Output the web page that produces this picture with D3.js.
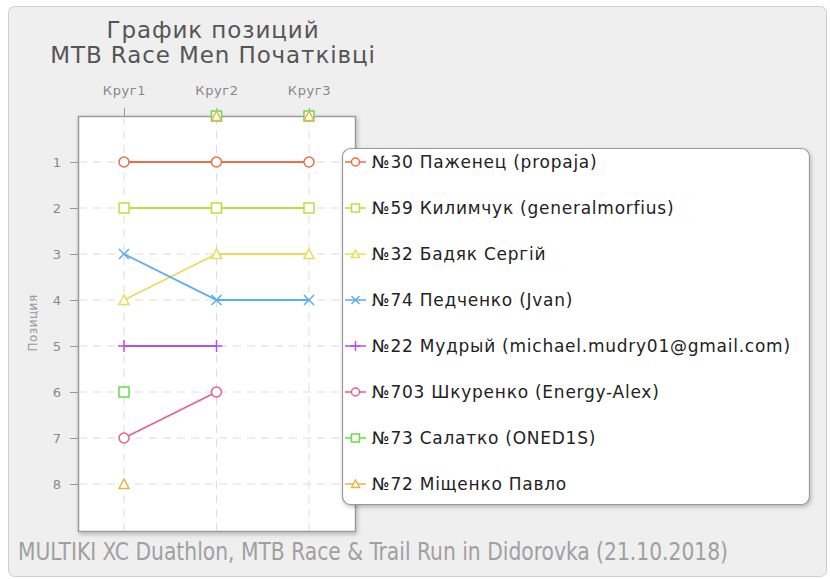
<!DOCTYPE html>
<html>
<head>
<meta charset="utf-8">
<style>
  body { margin: 0; background: #fff; }
  svg { display: block; }
</style>
</head>
<body>
<div id="chart"></div>
<script src="https://d3js.org/d3.v7.min.js"></script>
<script>
  // ---- data ----
  var laps = ["Круг1", "Круг2", "Круг3"];
  var riders = [
    "№30 Паженец (propaja)",
    "№59 Килимчук (generalmorfius)",
    "№32 Бадяк Сергій",
    "№74 Педченко (Jvan)",
    "№22 Мудрый (michael.mudry01@gmail.com)",
    "№703 Шкуренко (Energy-Alex)",
    "№73 Салатко (ONED1S)",
    "№72 Міщенко Павло"
  ];
  // position per lap, null = no data, 0 = dropped (drawn on the top edge)
  var positions = [
    [1, 1, 1],
    [2, 2, 2],
    [4, 3, 3],
    [3, 4, 4],
    [5, 5, null],
    [7, 6, null],
    [6, 0, 0],
    [8, 0, 0]
  ];
  var colors = ["#ef6d45", "#b9df3f", "#e9dc5a", "#5aaeea", "#b64fe9", "#e8608e", "#66dd4a", "#e9b347"];
  var symbols = ["circle", "square", "triangle", "cross", "plus", "circle", "square", "triangle"];
  var yTicks = [1, 2, 3, 4, 5, 6, 7, 8];

  var W = 830, H = 579;
  var plot = { left: 78, right: 355, top: 116, bottom: 531 };

  var svg = d3.select("#chart").append("svg")
    .attr("width", W).attr("height", H);

  var defs = svg.append("defs");
  var sh = defs.append("filter").attr("id", "shadow")
    .attr("x", "-5%").attr("y", "-5%").attr("width", "110%").attr("height", "110%");
  sh.append("feDropShadow").attr("dx", 1).attr("dy", 2).attr("stdDeviation", 2)
    .attr("flood-color", "#000").attr("flood-opacity", 0.25);

  // outer panel
  svg.append("rect")
    .attr("x", 8.5).attr("y", 6.5).attr("width", 818).attr("height", 570)
    .attr("rx", 6)
    .attr("fill", "#efefef").attr("stroke", "#cfcfcf");

  // title
  var titleFont = "'DejaVu Sans', sans-serif";
  svg.append("text")
    .attr("x", 213).attr("y", 38)
    .attr("text-anchor", "middle")
    .attr("font-family", titleFont)
    .attr("font-size", 23).attr("fill", "#555")
    .attr("letter-spacing", 0.9)
    .text("График позиций");
  svg.append("text")
    .attr("x", 213).attr("y", 63)
    .attr("text-anchor", "middle")
    .attr("font-family", titleFont)
    .attr("font-size", 23).attr("fill", "#555")
    .attr("letter-spacing", 0.9)
    .text("MTB Race Men Початківці");

  var x = d3.scalePoint()
    .domain(laps)
    .range([124, 309]);

  var y = d3.scaleLinear()
    .domain([0, 9])
    .range([plot.top, plot.bottom - 1]);

  // plot background
  svg.append("rect")
    .attr("x", plot.left + 0.5).attr("y", plot.top + 0.5)
    .attr("width", plot.right - plot.left).attr("height", plot.bottom - plot.top)
    .attr("fill", "#fff").attr("stroke", "#9a9a9a").attr("stroke-width", 1.5)
    .attr("filter", "url(#shadow)");

  // grid
  var grid = svg.append("g");
  grid.selectAll(".vg").data(laps).enter().append("line")
    .attr("x1", function(d) { return x(d); }).attr("x2", function(d) { return x(d); })
    .attr("y1", plot.top + 1).attr("y2", plot.bottom)
    .attr("stroke", "#ddd").attr("stroke-dasharray", "8,6");
  grid.selectAll(".hg").data(yTicks).enter().append("line")
    .attr("x1", plot.left + 1).attr("x2", plot.right)
    .attr("y1", function(d) { return y(d); }).attr("y2", function(d) { return y(d); })
    .attr("stroke", "#ddd").attr("stroke-dasharray", "8,6");

  // axes
  var xAxis = svg.append("g")
    .attr("transform", "translate(0," + plot.top + ")")
    .call(d3.axisTop(x).tickSize(8).tickPadding(13));
  xAxis.select(".domain").remove();
  xAxis.selectAll("line").attr("stroke", "#999");
  xAxis.selectAll("text")
    .attr("font-family", "'DejaVu Sans', sans-serif")
    .attr("font-size", 13).attr("fill", "#888")
    .attr("letter-spacing", 0.6);

  var yAxis = svg.append("g")
    .attr("transform", "translate(" + plot.left + ",0)")
    .call(d3.axisLeft(y).tickValues(yTicks).tickSize(8).tickPadding(9).tickFormat(d3.format("d")));
  yAxis.select(".domain").remove();
  yAxis.selectAll("line").attr("stroke", "#999");
  yAxis.selectAll("text")
    .attr("font-family", "'DejaVu Sans', sans-serif")
    .attr("font-size", 13).attr("fill", "#888");

  svg.append("text")
    .attr("transform", "translate(37," + y(4.5) + ") rotate(-90)")
    .attr("text-anchor", "middle")
    .attr("font-family", "'DejaVu Sans', sans-serif")
    .attr("font-size", 12).attr("fill", "#999")
    .attr("letter-spacing", 0.5)
    .text("Позиция");

  // marker drawer
  function marker(g, type, cx, cy, color, r) {
    if (type === "circle") {
      g.append("circle").attr("cx", cx).attr("cy", cy).attr("r", r)
        .attr("fill", "#fff").attr("stroke", color).attr("stroke-width", 1.5);
    } else if (type === "square") {
      g.append("rect").attr("x", cx - r).attr("y", cy - r)
        .attr("width", 2 * r).attr("height", 2 * r)
        .attr("fill", "#fff").attr("stroke", color).attr("stroke-width", 1.5);
    } else if (type === "triangle") {
      g.append("path")
        .attr("d", "M" + cx + "," + (cy - r) + "L" + (cx + r) + "," + (cy + r - 0.5) + "L" + (cx - r) + "," + (cy + r - 0.5) + "Z")
        .attr("fill", "#fff").attr("stroke", color).attr("stroke-width", 1.5);
    } else if (type === "cross") {
      g.append("path")
        .attr("d", "M" + (cx - r) + "," + (cy - r) + "L" + (cx + r) + "," + (cy + r) +
                   "M" + (cx - r) + "," + (cy + r) + "L" + (cx + r) + "," + (cy - r))
        .attr("stroke", color).attr("stroke-width", 1.5);
    } else if (type === "plus") {
      g.append("path")
        .attr("d", "M" + (cx - r - 1) + "," + cy + "L" + (cx + r + 1) + "," + cy +
                   "M" + cx + "," + (cy - r - 1) + "L" + cx + "," + (cy + r + 1))
        .attr("stroke", color).attr("stroke-width", 1.5);
    }
  }

  // series
  var line = d3.line()
    .defined(function(d) { return d.v !== null && d.v > 0; })
    .x(function(d) { return x(d.lap); })
    .y(function(d) { return y(d.v); });

  var series = svg.append("g");
  positions.forEach(function(vals, i) {
    var pts = vals.map(function(v, j) { return { lap: laps[j], v: v }; });
    var g = series.append("g");
    g.append("path").datum(pts)
      .attr("d", line)
      .attr("fill", "none").attr("stroke", colors[i]).attr("stroke-width", 1.8);
    pts.forEach(function(p) {
      if (p.v === null) return;
      marker(g, symbols[i], x(p.lap), y(p.v), colors[i], 5);
    });
  });

  // legend
  var lg = svg.append("g");
  lg.append("rect")
    .attr("x", 342.5).attr("y", 148.5).attr("width", 467).attr("height", 356)
    .attr("rx", 8)
    .attr("fill", "#fff").attr("stroke", "#999").attr("stroke-width", 1.2)
    .attr("filter", "url(#shadow)");

  riders.forEach(function(name, i) {
    var cy = y(i + 1);
    var g = lg.append("g");
    g.append("line").attr("x1", 345).attr("x2", 366).attr("y1", cy).attr("y2", cy)
      .attr("stroke", colors[i]).attr("stroke-width", 1.5);
    marker(g, symbols[i], 355.5, cy, colors[i], 4);
    g.append("text")
      .attr("x", 372).attr("y", cy + 6)
      .attr("font-family", "'DejaVu Sans', sans-serif")
      .attr("font-size", 17).attr("fill", "#222")
      .attr("letter-spacing", 0.75)
      .text(name);
  });

  // footer
  svg.append("text")
    .attr("x", 18).attr("y", 560)
    .attr("font-family", "'Liberation Sans Narrow', 'DejaVu Sans Condensed', sans-serif")
    .attr("font-size", 25).attr("fill", "#a0a0a0")
    .attr("textLength", 710).attr("lengthAdjust", "spacingAndGlyphs")
    .text("MULTIKI XC Duathlon, MTB Race & Trail Run in Didorovka (21.10.2018)");
</script>
</body>
</html>
